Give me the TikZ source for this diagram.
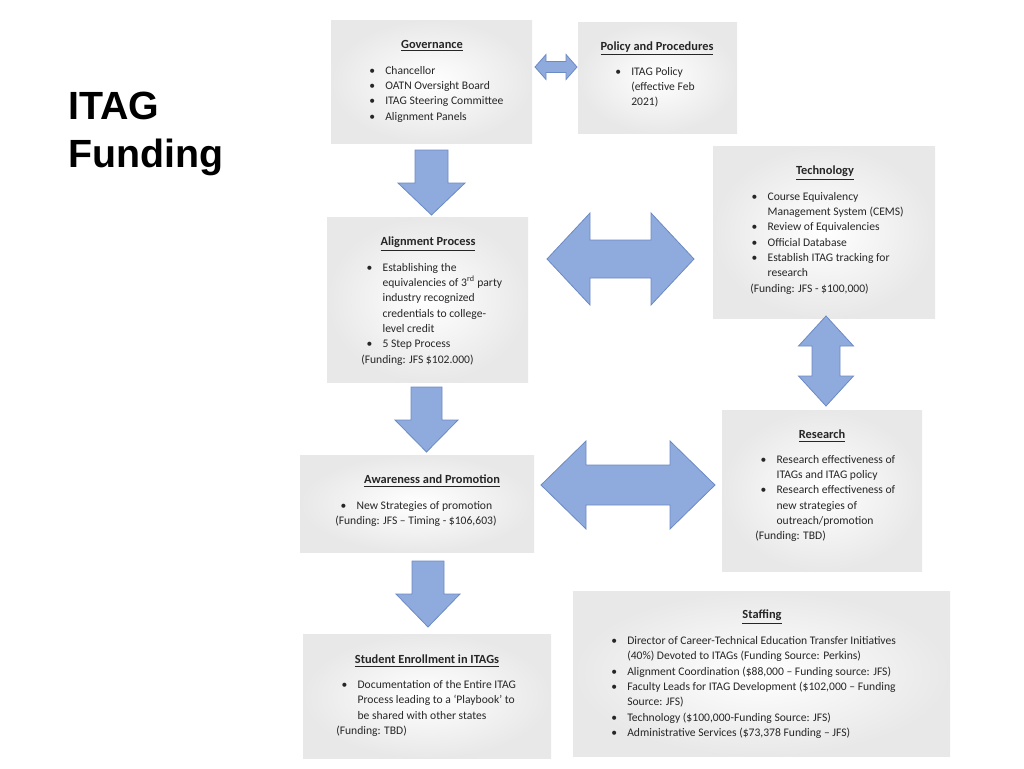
\documentclass[tikz,border=0pt]{standalone}
\usepackage{fontspec}
\setmainfont{Carlito}
\newfontfamily\arialf{Liberation Sans}
\begin{document}
\begin{tikzpicture}[x=0.75pt,y=-0.75pt,
  box/.style={inner sep=0pt,draw=none,inner color=white,outer color=black!9,rectangle},
  ttl/.style={font=\fontsize{9.3}{11}\selectfont\bfseries,inner sep=0pt,text=black!85},
  body/.style={anchor=north west,inner sep=0pt,align=left,font=\fontsize{8.7}{11.5}\selectfont,text=black!85},
  arr/.style={fill={rgb,255:red,143;green,170;blue,220},draw={rgb,255:red,108;green,138;blue,196},line width=0.6pt,line join=miter}]
\useasboundingbox (0,0) rectangle (1024,768);
\newcommand\bi{\makebox[12pt][l]{•}}
\newcommand\ci{\hspace*{12pt}}
\newcommand\mybox[5]{\path[box] (#2,#3) rectangle (#4,#5); \coordinate (#1) at ({(#2+#4)/2},{(#3+#5)/2});}
\node[font=\arialf\bfseries\fontsize{29.5}{36}\selectfont,align=left,anchor=north west,inner sep=0pt] (title) at (68,92) {ITAG\\Funding};
% boxes
\mybox{gov}{331}{20}{532}{143}
\mybox{pol}{578}{22}{737}{133}
\mybox{tec}{713}{146}{935}{318}
\mybox{ali}{327}{217}{528}{382}
\mybox{awa}{300}{455}{534}{552}
\mybox{res}{722}{410}{922}{571}
\mybox{stu}{303}{634}{551}{758}
\mybox{sta}{573}{591}{950}{756}
% titles
\node[ttl] (govt) at (432,46) {\underline{Governance}};
\node[ttl] (polt) at (657,48) {\underline{Policy and Procedures}};
\node[ttl] (tect) at (825,173) {\underline{Technology}};
\node[ttl] (alit) at (428,244) {\underline{Alignment Process}};
\node[ttl] (awat) at (432,481) {\underline{Awareness and Promotion}};
\node[ttl] (rest) at (822,436) {\underline{Research}};
\node[ttl] (stut) at (427,661) {\underline{Student Enrollment in ITAGs}};
\node[ttl] (stat) at (762,617) {\underline{Staffing}};
% bodies
\node[body] (govb) at (369,66) {\bi Chancellor\\\bi OATN Oversight Board\\\bi ITAG Steering Committee\\\bi Alignment Panels};
\node[body] (polb) at (615,67) {\bi ITAG Policy\\\ci (effective Feb\\\ci 2021)};
\node[body] (tecb) at (750,192) {\hspace*{1pt}\bi Course Equivalency\\\hspace*{1pt}\ci Management System (CEMS)\\\hspace*{1pt}\bi Review of Equivalencies\\\hspace*{1pt}\bi Official Database\\\hspace*{1pt}\bi Establish ITAG tracking for\\\hspace*{1pt}\ci research\\(Funding: JFS - \$100,000)};
\node[body] (alib) at (361,263) {\hspace*{4pt}\bi Establishing the\\\hspace*{4pt}\ci equivalencies of 3\textsuperscript{rd} party\\\hspace*{4pt}\ci industry recognized\\\hspace*{4pt}\ci credentials to college-\\\hspace*{4pt}\ci level credit\\\hspace*{4pt}\bi 5 Step Process\\(Funding: JFS \$102.000)};
\node[body] (awab) at (335,501) {\hspace*{4pt}\bi New Strategies of promotion\\(Funding: JFS -- Timing - \$106,603)};
\node[body] (resb) at (755,455) {\hspace*{4pt}\bi Research effectiveness of\\\hspace*{4pt}\ci ITAGs and ITAG policy\\\hspace*{4pt}\bi Research effectiveness of\\\hspace*{4pt}\ci new strategies of\\\hspace*{4pt}\ci outreach/promotion\\(Funding: TBD)};
\node[body] (stub) at (336,680) {\hspace*{4pt}\bi Documentation of the Entire ITAG\\\hspace*{4pt}\ci Process leading to a `Playbook' to\\\hspace*{4pt}\ci be shared with other states\\(Funding: TBD)};
\node[body] (stab) at (611,636) {\bi Director of Career-Technical Education Transfer Initiatives\\\ci (40\%) Devoted to ITAGs (Funding Source: Perkins)\\\bi Alignment Coordination (\$88,000 -- Funding source: JFS)\\\bi Faculty Leads for ITAG Development (\$102,000 -- Funding\\\ci Source: JFS)\\\bi Technology (\$100,000-Funding Source: JFS)\\\bi Administrative Services (\$73,378 Funding -- JFS)};
% arrows
\newcommand\harr[6]{\draw[arr] (#1,#3) -- (#1+#6,#3-#5) -- (#1+#6,#3-#4) -- (#2-#6,#3-#4) -- (#2-#6,#3-#5) -- (#2,#3) -- (#2-#6,#3+#5) -- (#2-#6,#3+#4) -- (#1+#6,#3+#4) -- (#1+#6,#3+#5) -- cycle;}
\newcommand\varr[6]{\draw[arr] (#3,#1) -- (#3-#5,#1+#6) -- (#3-#4,#1+#6) -- (#3-#4,#2-#6) -- (#3-#5,#2-#6) -- (#3,#2) -- (#3+#5,#2-#6) -- (#3+#4,#2-#6) -- (#3+#4,#1+#6) -- (#3+#5,#1+#6) -- cycle;}
\newcommand\darr[6]{\draw[arr] (#3-#4,#1) -- (#3-#4,#2-#6) -- (#3-#5,#2-#6) -- (#3,#2) -- (#3+#5,#2-#6) -- (#3+#4,#2-#6) -- (#3+#4,#1) -- cycle;}
\harr{535}{577}{67}{5.5}{12.5}{11}
\harr{547}{694}{259}{19}{46}{43}
\harr{541}{715}{485}{20}{44}{45}
\varr{316}{406}{826}{14}{27.5}{30}
\darr{150}{215}{431.5}{16.5}{33.5}{32}
\darr{387}{452}{426.5}{15.5}{31.5}{32}
\darr{561}{627}{428}{16}{32}{33}
\end{tikzpicture}
\end{document}
